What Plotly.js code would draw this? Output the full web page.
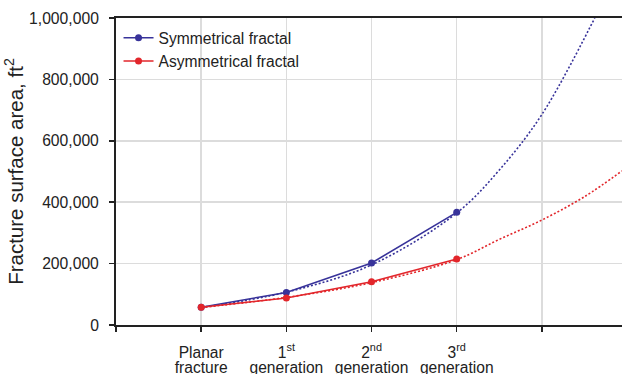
<!DOCTYPE html>
<html>
<head>
<meta charset="utf-8">
<script src="https://cdn.plot.ly/plotly-3.0.1.min.js"></script>
<style>html,body{margin:0;padding:0;background:#fff;}#chart{width:622px;height:374px;}</style>
</head>
<body>
<div id="chart"></div>
<script>
// Category positions and labels
const stageX = [1, 2, 3, 4];
const tickPositions = [0, 1, 2, 3, 4, 5];
const labelLine1 = ["Planar", "1<sup>st</sup>", "2<sup>nd</sup>", "3<sup>rd</sup>"];
const labelLine2 = ["fracture", "generation", "generation", "generation"];

// Measured values (ft^2)
const symmetrical = [58000, 106000, 202000, 367000];
const asymmetrical = [58000, 88000, 141000, 215000];

// Trend (dotted) curves
const symTrendX = [1, 2, 3, 4, 4.5, 5, 5.62];
const symTrendY = [57000, 107000, 196000, 365000, 505000, 686000, 1000000];
const asymTrendX = [1, 2, 3, 4, 4.5, 5, 5.5, 5.94];
const asymTrendY = [57000, 90000, 138000, 213000, 279000, 342000, 418000, 502000];

const blue = "#38339a";
const red = "#e2262b";
const font = "Arial, 'Liberation Sans', sans-serif";
const xRange = [0, 5.94];

const traces = [
  {x: symTrendX, y: symTrendY, mode: "lines", line: {color: blue, width: 1.6, dash: "2px,2px", shape: "spline"}, showlegend: false, hoverinfo: "skip"},
  {x: asymTrendX, y: asymTrendY, mode: "lines", line: {color: red, width: 1.6, dash: "2px,2px", shape: "spline"}, showlegend: false, hoverinfo: "skip"},
  {x: stageX, y: symmetrical, name: "Symmetrical fractal", mode: "lines+markers", line: {color: blue, width: 1.6}, marker: {color: blue, size: 7}},
  {x: stageX, y: asymmetrical, name: "Asymmetrical fractal", mode: "lines+markers", line: {color: red, width: 1.6}, marker: {color: red, size: 7}},
  {x: [], y: [], xaxis: "x2", yaxis: "y", showlegend: false, hoverinfo: "skip"},
  {x: [], y: [], xaxis: "x3", yaxis: "y", showlegend: false, hoverinfo: "skip"}
];

const layout = {
  width: 622, height: 374,
  margin: {l: 116, r: 0, t: 18, b: 49},
  paper_bgcolor: "#fff", plot_bgcolor: "#fff",
  font: {family: font, size: 15.6, color: "#222"},
  showlegend: true,
  legend: {x: 0.005, y: 0.99, xanchor: "left", yanchor: "top", bgcolor: "rgba(0,0,0,0)", borderwidth: 0, font: {size: 15.6, color: "#222"}, tracegroupgap: 0},
  xaxis: {
    range: xRange, tickmode: "array", tickvals: tickPositions, showticklabels: false,
    showgrid: true, gridcolor: "#dcdcdc", gridwidth: 1.5, zeroline: false,
    showline: true, linecolor: "#222", linewidth: 2, mirror: true,
    ticks: "outside", ticklen: 5, tickwidth: 1.5, tickcolor: "#222"
  },
  xaxis2: {
    overlaying: "x", anchor: "y", side: "bottom", range: xRange,
    tickmode: "array", tickvals: stageX, ticktext: labelLine1,
    showgrid: false, zeroline: false, showline: false, ticks: "",
    ticklabelstandoff: 16, tickfont: {size: 15.6, color: "#222"}
  },
  xaxis3: {
    overlaying: "x", anchor: "y", side: "bottom", range: xRange,
    tickmode: "array", tickvals: stageX, ticktext: labelLine2,
    showgrid: false, zeroline: false, showline: false, ticks: "",
    ticklabelstandoff: 31, tickfont: {size: 15.6, color: "#222"}
  },
  yaxis: {
    range: [0, 1000000], dtick: 200000, tickformat: ",d",
    showgrid: true, gridcolor: "#dcdcdc", gridwidth: 1.5, zeroline: false,
    showline: true, linecolor: "#222", linewidth: 2,
    ticks: "outside", ticklen: 5, tickwidth: 1.5, tickcolor: "#222",
    ticklabelstandoff: 7,
    tickfont: {size: 15.7, color: "#222"},
    title: {text: "Fracture surface area, ft<sup>2</sup>", font: {size: 20.5, color: "#222"}, standoff: 0}
  }
};

Plotly.newPlot("chart", traces, layout, {displayModeBar: false, staticPlot: true});
</script>
</body>
</html>
